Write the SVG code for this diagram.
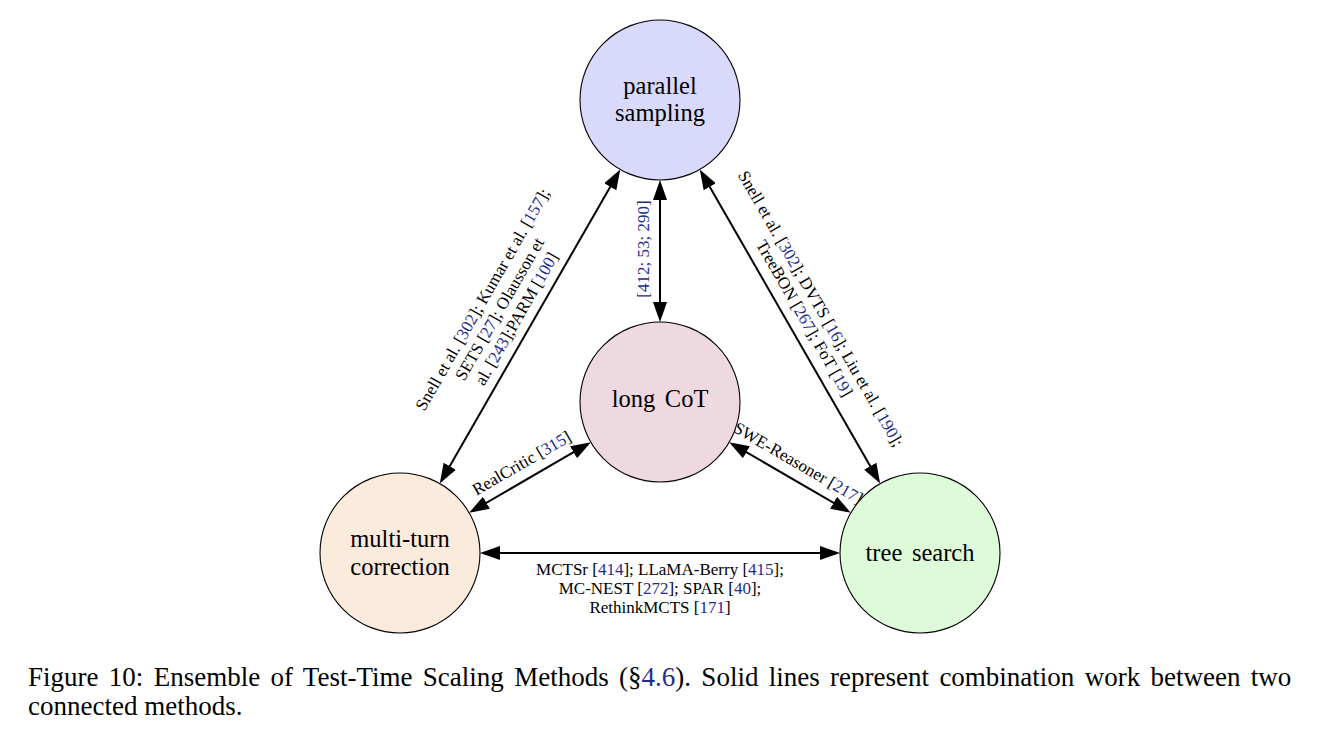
<svg xmlns="http://www.w3.org/2000/svg" width="1328" height="742" viewBox="0 0 1328 742">
<defs>
<style>
.node circle{stroke:#000;stroke-width:1.1}
.nl{font-family:"Liberation Serif","Times New Roman",serif;font-size:24.5px;fill:#000;text-anchor:middle}
.el{font-family:"Liberation Serif","Times New Roman",serif;font-size:17px;fill:#000;text-anchor:middle}
.c{fill:#1f2d8c}
.edge{stroke:#000;stroke-width:2;fill:none;marker-start:url(#ah);marker-end:url(#ah)}
.cap{font-family:"Liberation Serif","Times New Roman",serif;font-size:27px;fill:#000}
</style>
<marker id="ah" markerUnits="userSpaceOnUse" markerWidth="22" markerHeight="16" viewBox="0 -8 22 16" refX="16" refY="0" orient="auto-start-reverse"><path d="M0,-7 L20,0 L0,7 Z" fill="#000"/></marker>
</defs>
<rect width="1328" height="742" fill="#fff"/>

<g id="connectors">
<line class="edge" x1="660" y1="184" x2="660" y2="318"/>
<line class="edge" x1="441.8" y1="480.1" x2="618.2" y2="172.9"/>
<line class="edge" x1="878.2" y1="480.1" x2="701.8" y2="172.9"/>
<line class="edge" x1="472.6" y1="510.8" x2="587.4" y2="444.2"/>
<line class="edge" x1="847.4" y1="510.8" x2="732.6" y2="444.2"/>
<line class="edge" x1="484" y1="553" x2="836" y2="553"/>
</g>

<g id="edge-labels">
<text class="el c" transform="translate(649,249) rotate(-90)">[412; 53; 290]</text>
<g transform="translate(530,326.5) rotate(-60.14)">
<text class="el" x="0" y="-49">Snell et al. [<tspan class="c">302</tspan>]; Kumar et al. [<tspan class="c">157</tspan>];</text>
<text class="el" x="0" y="-29.5">SETS [<tspan class="c">27</tspan>]; Olausson et</text>
<text class="el" x="0" y="-10">al. [<tspan class="c">243</tspan>];PARM [<tspan class="c">100</tspan>]</text>
</g>
<g transform="translate(790,326.5) rotate(60.14)">
<text class="el" x="0" y="-30">Snell et al. [<tspan class="c">302</tspan>]; DVTS [<tspan class="c">16</tspan>]; Liu et al. [<tspan class="c">190</tspan>];</text>
<text class="el" x="0" y="-11">TreeBON [<tspan class="c">267</tspan>]; FoT [<tspan class="c">19</tspan>]</text>
</g>
<text class="el" transform="translate(530,477.5) rotate(-30.14)" y="-11">RealCritic [<tspan class="c">315</tspan>]</text>
<text class="el" transform="translate(790,477.5) rotate(30.14)" y="-11">SWE-Reasoner [<tspan class="c">217</tspan>]</text>
<text class="el" x="660" y="575">MCTSr [<tspan class="c">414</tspan>]; LLaMA-Berry [<tspan class="c">415</tspan>];</text>
<text class="el" x="660" y="594">MC-NEST [<tspan class="c">272</tspan>]; SPAR [<tspan class="c">40</tspan>];</text>
<text class="el" x="660" y="613">RethinkMCTS [<tspan class="c">171</tspan>]</text>
</g>

<g id="node-parallel-sampling" class="node">
<circle cx="660" cy="100" r="80" fill="#D9D9FC"/>
<text class="nl" x="660" y="93.5">parallel</text>
<text class="nl" x="660" y="121">sampling</text>
</g>
<g id="node-long-cot" class="node">
<circle cx="660" cy="402" r="80" fill="#EED9E0"/>
<text class="nl" x="660" y="407" word-spacing="3.5">long CoT</text>
</g>
<g id="node-multi-turn-correction" class="node">
<circle cx="400" cy="553" r="80" fill="#FAEBDC"/>
<text class="nl" x="400" y="547">multi-turn</text>
<text class="nl" x="400" y="574.5">correction</text>
</g>
<g id="node-tree-search" class="node">
<circle cx="920" cy="553" r="80" fill="#DEFBD9"/>
<text class="nl" x="920" y="561" word-spacing="3.5">tree search</text>
</g>

<g id="caption">
<text class="cap" x="28" y="686" word-spacing="3.6">Figure 10: Ensemble of Test-Time Scaling Methods (§<tspan class="c">4.6</tspan>). Solid lines represent combination work between two</text>
<text class="cap" x="28" y="715">connected methods.</text>
</g>
</svg>
